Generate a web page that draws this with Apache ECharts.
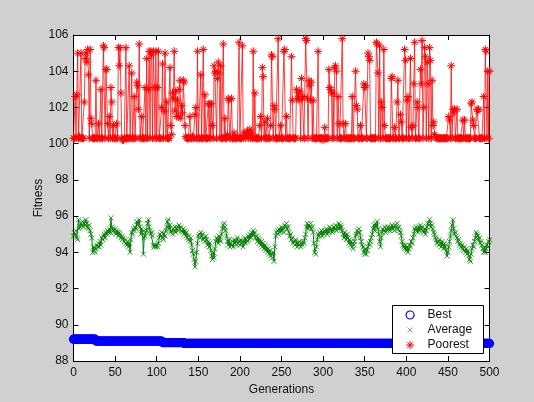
<!DOCTYPE html>
<html><head><meta charset="utf-8">
<script src="https://cdn.jsdelivr.net/npm/echarts@6/dist/echarts.min.js"></script>
<style>html,body{margin:0;padding:0;background:#d0d0d0}#c{width:534px;height:402px}</style>
</head><body><div id="c"></div><script>
// Generations 0..500
const xTicks = [0, 50, 100, 150, 200, 250, 300, 350, 400, 450, 500];
const yTicks = [88, 90, 92, 94, 96, 98, 100, 102, 104, 106];
const seriesNames = ['Best', 'Average', 'Poorest'];

// Best fitness: read as constant runs (level, number of generations)
const bestLevels = [89.2, 89.1, 89.02, 88.97];
const bestRunLengths = [27, 80, 26, 368];

// Average fitness, generations 0..500
const averageValues = [
94.9,95.1,95.0,95.2,94.8,94.7,95.8,95.3,95.4,95.6,95.5,95.7,95.4,95.6,95.5,95.8,95.6,95.4,95.3,95.5,
95.2,95.0,94.8,94.0,94.3,94.1,94.0,94.2,94.4,94.3,94.5,94.3,94.6,94.4,94.8,94.7,94.9,95.0,94.8,95.1,
95.0,95.2,95.1,95.3,95.1,95.9,95.4,95.3,95.2,95.1,95.3,95.0,95.2,95.1,94.9,95.1,95.0,94.8,94.9,94.7,
94.8,94.6,94.7,94.5,94.4,94.6,94.3,94.5,94.0,94.7,95.1,95.0,95.3,95.2,95.4,95.3,95.7,95.5,95.6,95.8,
95.4,95.0,95.3,95.1,93.9,94.8,94.9,95.1,95.2,95.6,95.8,95.4,95.2,95.0,95.1,94.9,94.4,94.3,94.4,94.3,
94.4,94.3,94.5,94.8,95.0,94.9,95.1,94.8,94.7,95.0,94.9,95.2,95.4,95.7,95.8,95.3,95.5,95.1,95.2,95.0,
95.3,95.2,95.4,95.1,95.3,95.4,95.2,95.5,95.3,95.4,95.2,95.1,95.3,95.0,95.2,94.9,95.1,94.8,94.7,94.9,
94.6,94.8,94.4,94.1,93.9,93.6,93.2,93.5,94.0,94.5,94.9,95.0,94.8,95.1,94.9,95.0,94.7,94.8,94.6,94.9,
94.7,94.4,94.6,94.3,94.5,94.1,93.8,93.6,94.0,93.7,94.2,94.6,94.8,94.7,94.5,94.9,94.7,94.6,95.0,95.3,
95.5,95.6,95.4,95.2,94.9,94.6,94.4,94.7,94.3,94.5,94.4,94.6,94.3,94.7,94.5,94.6,94.4,94.8,94.5,94.6,
94.4,94.7,94.5,94.6,94.3,94.6,94.8,94.5,94.7,94.6,94.9,94.7,95.0,94.8,95.1,94.9,95.2,95.0,95.1,94.8,
94.9,94.6,94.8,94.5,94.7,94.4,94.6,94.3,94.5,94.2,94.4,94.1,94.3,94.0,94.2,93.9,94.1,93.8,93.9,93.7,
94.0,93.5,94.3,94.9,95.1,95.2,95.0,95.3,95.1,95.2,95.4,95.2,95.3,95.1,95.5,95.4,95.6,95.3,95.4,95.1,
94.9,95.0,94.7,94.8,94.5,94.6,94.4,94.7,94.5,94.3,94.5,94.4,94.6,94.3,94.5,94.4,94.6,94.5,94.8,95.0,
95.4,95.6,95.3,95.5,95.4,95.6,95.3,95.4,95.1,94.5,94.0,93.9,94.3,94.7,95.0,94.9,95.1,95.0,95.2,94.9,
95.1,95.0,95.2,95.1,95.3,95.0,95.2,95.1,95.4,95.2,95.3,95.1,95.2,95.4,95.3,95.5,95.2,95.4,95.3,95.6,
95.3,95.5,95.4,95.2,95.0,94.8,95.1,94.9,94.7,95.0,94.8,94.5,94.7,94.4,94.6,94.3,94.2,94.4,94.6,94.9,
95.0,95.2,95.1,95.3,95.1,94.8,94.6,94.4,94.3,94.0,93.9,94.2,93.9,94.1,94.3,94.5,94.4,94.6,94.8,95.0,
95.3,95.5,95.2,95.6,95.4,95.7,95.3,95.0,94.6,94.3,94.8,95.1,95.3,95.2,95.4,95.1,95.3,95.2,95.4,95.3,
95.2,95.4,95.3,95.5,95.3,95.4,95.2,95.5,95.4,95.6,95.3,95.4,95.2,95.1,94.9,94.6,94.4,94.3,94.2,94.4,
94.1,94.3,94.0,94.2,94.4,94.3,94.6,94.5,94.8,95.0,95.3,95.2,95.4,95.3,95.1,95.4,95.2,95.5,95.3,95.4,
95.2,95.1,95.3,95.0,95.2,95.4,95.6,95.5,95.8,95.6,95.4,95.5,95.3,95.1,95.0,94.8,94.7,94.5,94.6,94.4,
94.7,94.5,94.3,94.6,94.4,94.2,94.5,94.3,94.1,93.8,94.0,94.3,94.6,94.9,95.2,95.5,95.8,95.3,95.0,95.1,
94.9,94.8,94.6,94.7,94.4,94.5,94.3,94.4,94.2,94.1,94.3,94.0,94.2,93.9,94.1,93.8,93.6,93.5,93.9,94.2,
94.4,94.3,94.6,94.8,95.1,95.0,94.9,94.7,94.8,94.5,94.6,94.4,94.2,94.0,94.3,94.0,94.2,94.4,94.3,94.6,
94.7
];

// Poorest fitness, generations 0..500
const poorestValues = [
100.3,100.3,102.6,100.3,102.7,105.0,100.3,100.4,100.3,105.0,100.3,100.3,100.3,102.3,104.7,105.0,104.5,105.2,103.8,100.3,
105.2,101.4,101.1,100.3,100.3,100.3,100.3,103.5,100.3,100.3,101.1,100.3,100.3,103.0,100.3,100.3,105.4,105.3,100.3,104.1,
104.1,101.1,100.3,101.5,100.3,103.1,102.3,100.3,101.0,100.3,100.3,100.3,101.1,100.3,105.3,104.3,105.3,102.8,100.3,100.2,
100.2,100.3,100.3,105.3,100.3,100.3,100.3,104.3,100.3,100.3,103.9,100.3,100.3,102.6,100.3,100.3,103.4,103.2,101.9,105.5,
100.3,100.3,101.5,100.3,100.3,100.3,103.1,100.3,104.7,100.3,103.0,105.1,100.3,105.1,104.9,100.3,105.1,103.1,100.3,105.1,
100.3,103.1,105.1,100.3,100.3,100.3,102.0,104.4,100.3,101.8,105.0,100.3,102.3,100.3,100.3,100.3,104.2,101.0,100.5,102.8,
102.5,105.1,101.8,102.9,101.5,102.4,101.5,103.0,103.5,101.4,102.1,101.7,103.5,103.4,101.0,100.4,100.3,100.3,100.3,100.3,
101.5,100.3,100.3,100.4,100.3,100.3,101.6,102.0,100.3,105.1,100.3,100.3,100.3,103.8,100.3,100.3,105.2,100.3,102.7,100.3,
100.3,100.3,102.2,100.3,102.2,100.3,102.2,101.0,100.3,104.3,103.9,104.0,100.3,103.6,104.5,103.9,100.3,104.3,100.3,100.3,
105.5,100.3,101.4,100.3,100.3,100.5,102.5,102.4,100.3,100.3,102.5,100.3,100.3,100.6,100.3,100.3,100.3,100.4,100.3,105.6,
100.3,100.3,100.3,105.4,100.3,100.6,100.5,100.3,100.6,100.7,100.3,100.5,100.8,100.3,100.6,100.3,105.1,100.3,102.8,100.3,
100.3,100.3,100.3,100.3,101.0,101.5,100.3,104.2,103.7,100.3,101.2,100.3,100.3,101.4,100.3,100.3,100.3,101.0,104.9,104.8,
100.3,102.1,101.9,100.3,100.3,100.3,105.8,100.3,100.3,101.0,100.3,100.3,100.3,105.1,105.2,100.3,101.5,100.3,100.3,100.3,
100.3,100.3,104.8,102.4,100.3,100.3,100.3,100.3,103.0,102.5,102.8,102.4,102.9,100.3,103.6,102.5,102.6,100.3,100.3,105.8,
105.7,102.5,100.3,103.5,103.2,102.4,103.4,100.3,102.4,100.3,100.3,100.3,100.3,100.3,105.1,100.3,100.3,100.3,100.3,100.3,
100.2,100.3,100.9,100.3,100.3,100.3,100.3,104.1,103.1,103.0,102.8,100.3,102.8,100.3,104.2,104.3,104.0,100.3,102.6,101.1,
100.3,100.3,100.3,105.8,101.1,100.3,100.3,101.1,100.3,100.3,100.3,100.3,100.3,100.3,100.3,102.6,100.3,100.3,100.3,104.0,
102.1,101.9,100.3,100.3,100.3,101.0,100.3,100.3,100.3,103.3,103.1,103.2,100.3,100.3,105.0,104.8,104.6,100.3,100.3,100.3,
100.3,100.3,100.3,100.3,105.6,105.5,103.9,100.3,105.4,100.3,102.3,102.0,100.3,105.2,101.0,100.3,100.3,100.3,100.3,100.3,
100.3,100.3,103.6,103.7,100.3,100.3,100.9,100.3,100.3,102.3,103.5,100.3,100.3,101.6,101.2,100.3,100.3,100.3,105.2,104.6,
100.3,102.4,102.6,100.3,100.3,104.7,100.9,100.3,101.0,103.3,105.6,100.3,100.3,102.3,102.0,100.3,100.3,104.1,103.3,105.7,
100.3,102.0,105.3,104.8,100.3,104.5,103.3,100.3,105.3,104.6,100.3,103.5,101.0,101.2,100.5,100.4,100.3,100.3,100.3,100.3,
100.3,100.3,100.3,100.3,100.3,100.3,100.3,100.3,100.3,100.3,100.3,101.5,101.3,100.3,104.3,100.3,101.9,101.7,101.9,100.3,
100.3,101.9,100.3,100.3,100.3,100.3,100.3,100.3,101.3,100.3,101.3,100.3,100.3,100.3,100.3,100.3,100.3,100.3,102.2,102.3,
101.3,101.0,100.3,100.3,100.3,101.9,101.8,101.9,100.3,100.3,100.3,100.3,100.3,102.6,100.3,105.2,105.1,100.3,104.0,100.3,
104.0
];

// ---- build series data ----
const bestValues = [];
bestLevels.forEach(function (lv, k) { for (let j = 0; j < bestRunLengths[k]; j++) bestValues.push(lv); });
const toPairs = arr => arr.map((v, i) => [i, v]);

const FONT = '"Liberation Sans", Arial, Helvetica, sans-serif';
const STAR = 'path://M5,0L5,10M0,5L10,5M1.6,1.6L8.4,8.4M8.4,1.6L1.6,8.4';
const CROSS = 'path://M0,0L10,10M10,0L0,10';
const CROSS_LEGEND = 'path://M-3,-3L-3,-3M13,13L13,13M0,0L10,10M10,0L0,10';

const xMain = {
  type: 'value', min: xTicks[0], max: xTicks[xTicks.length - 1], interval: xTicks[1] - xTicks[0],
  position: 'bottom',
  axisLine: { show: true, onZero: false, lineStyle: { color: '#000', width: 1 } },
  axisTick: { show: true, inside: true, length: 5, lineStyle: { color: '#000' } },
  axisLabel: { color: '#111', fontSize: 12, fontFamily: FONT, margin: 6 },
  splitLine: { show: false },
  name: 'Generations', nameLocation: 'middle', nameGap: 20,
  nameTextStyle: { color: '#111', fontSize: 12, fontFamily: FONT }
};
const xTop = {
  type: 'value', min: xTicks[0], max: xTicks[xTicks.length - 1], interval: xTicks[1] - xTicks[0],
  position: 'top',
  axisLine: { show: true, onZero: false, lineStyle: { color: '#000', width: 1 } },
  axisTick: { show: true, inside: true, length: 5, lineStyle: { color: '#000' } },
  axisLabel: { show: false }, splitLine: { show: false }
};
const yMain = {
  type: 'value', min: yTicks[0], max: yTicks[yTicks.length - 1], interval: yTicks[1] - yTicks[0],
  position: 'left',
  axisLine: { show: true, onZero: false, lineStyle: { color: '#000', width: 1 } },
  axisTick: { show: true, inside: true, length: 5, lineStyle: { color: '#000' } },
  axisLabel: { color: '#111', fontSize: 12, fontFamily: FONT, margin: 5 },
  splitLine: { show: false },
  name: 'Fitness', nameLocation: 'middle', nameGap: 29, nameMoveOverlap: false,
  nameTextStyle: { color: '#111', fontSize: 12, fontFamily: FONT }
};
const yRight = {
  type: 'value', min: yTicks[0], max: yTicks[yTicks.length - 1], interval: yTicks[1] - yTicks[0],
  position: 'right',
  axisLine: { show: true, onZero: false, lineStyle: { color: '#000', width: 1 } },
  axisTick: { show: true, inside: true, length: 5, lineStyle: { color: '#000' } },
  axisLabel: { show: false }, splitLine: { show: false }
};

const chart = echarts.init(document.getElementById('c'), null, { renderer: 'canvas' });
chart.setOption({
  animation: false,
  backgroundColor: '#d0d0d0',
  grid: { left: 73.5, right: 44.5, top: 35, bottom: 41, show: true, backgroundColor: '#ffffff', borderWidth: 0 },
  xAxis: [xMain, xTop],
  yAxis: [yMain, yRight],
  graphic: [{
    type: 'rect', z: 3, silent: true,
    shape: { x: 392.5, y: 305.5, width: 91, height: 48 },
    style: { fill: '#ffffff', stroke: '#000000', lineWidth: 1 }
  }],
  legend: {
    show: true, orient: 'vertical', left: 392, top: 305, z: 5,
    padding: [2.5, 8, 2, 13.5], itemGap: 0, itemWidth: 25, itemHeight: 8,
    itemStyle: { borderWidth: 1 },
    textStyle: { color: '#111', fontSize: 12, fontFamily: FONT, lineHeight: 15 },
    data: [
      { name: seriesNames[0], icon: 'circle', itemStyle: { color: 'rgba(0,0,0,0)', borderColor: '#0000ff', borderWidth: 1.2 } },
      { name: seriesNames[1], icon: CROSS_LEGEND, itemStyle: { color: 'rgba(0,0,0,0)', borderColor: '#3a9a3a', borderWidth: 1 } },
      { name: seriesNames[2], icon: STAR, itemStyle: { color: 'rgba(0,0,0,0)', borderColor: '#ff0000', borderWidth: 1 } }
    ],
    selectedMode: false
  },
  series: [
    {
      name: seriesNames[0], type: 'line', data: toPairs(bestValues), silent: true,
      showAllSymbol: true, symbol: 'circle', symbolSize: 8,
      itemStyle: { color: 'rgba(0,0,0,0)', borderColor: '#0000ff', borderWidth: 1.3 },
      lineStyle: { color: '#0000ff', width: 1 }, z: 2
    },
    {
      name: seriesNames[1], type: 'line', data: toPairs(averageValues), silent: true,
      showAllSymbol: true, symbol: CROSS, symbolSize: 5,
      itemStyle: { color: 'rgba(0,0,0,0)', borderColor: '#008000', borderWidth: 1, opacity: 0.8 },
      lineStyle: { color: '#008000', width: 1 }, z: 2
    },
    {
      name: seriesNames[2], type: 'line', data: toPairs(poorestValues), silent: true,
      showAllSymbol: true, symbol: STAR, symbolSize: 8,
      itemStyle: { color: 'rgba(0,0,0,0)', borderColor: '#ff0000', borderWidth: 1 },
      lineStyle: { color: '#ff0000', width: 1, opacity: 0.75 }, z: 2
    }
  ]
});
</script></body></html>
